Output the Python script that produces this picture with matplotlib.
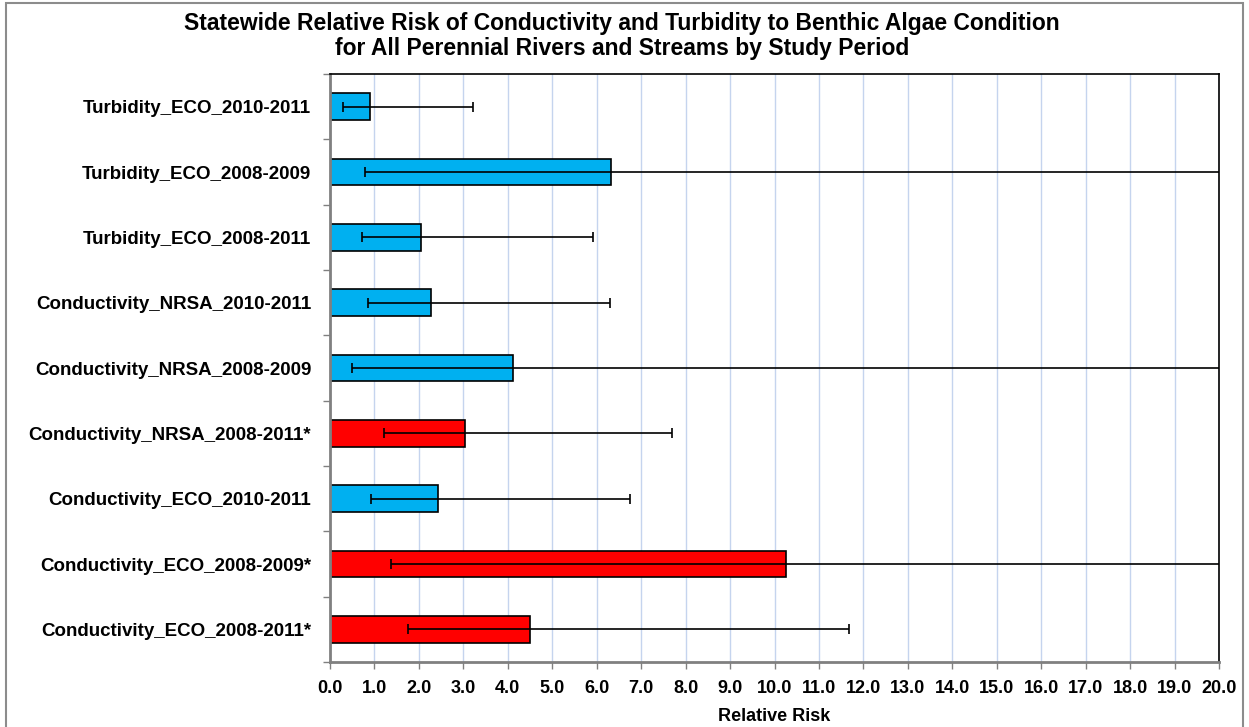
import numpy as np
import matplotlib.pyplot as plt
from matplotlib.patches import Rectangle

plt.rcParams['font.family'] = ['Liberation Sans', 'DejaVu Sans']

# categories listed from top to bottom as in the chart
labels = [
    "Turbidity_ECO_2010-2011",
    "Turbidity_ECO_2008-2009",
    "Turbidity_ECO_2008-2011",
    "Conductivity_NRSA_2010-2011",
    "Conductivity_NRSA_2008-2009",
    "Conductivity_NRSA_2008-2011*",
    "Conductivity_ECO_2010-2011",
    "Conductivity_ECO_2008-2009*",
    "Conductivity_ECO_2008-2011*",
]
risk = [0.91, 6.33, 2.05, 2.27, 4.12, 3.03, 2.44, 10.26, 4.50]
ci_low = [0.30, 0.78, 0.72, 0.85, 0.49, 1.21, 0.92, 1.37, 1.75]
ci_high = [3.22, 25.0, 5.91, 6.30, 25.0, 7.69, 6.75, 25.0, 11.67]
significant = [False, False, False, False, False, True, False, True, True]

risk = np.array(risk)
err = [risk - np.array(ci_low), np.array(ci_high) - risk]
colors = ["#FF0000" if s else "#00B0F0" for s in significant]

fig = plt.figure(figsize=(12.49, 7.27), dpi=100)
ax = fig.add_axes([0.2642, 0.0894, 0.7118, 0.8088])

y = np.arange(len(labels))[::-1]
ax.barh(y, risk, height=0.41, color=colors, edgecolor="black", linewidth=1.2, zorder=2)
ax.errorbar(risk, y, xerr=err, fmt="none", ecolor="black", elinewidth=1.2,
            capsize=3.5, capthick=1.2, zorder=3)

ax.set_xlim(0, 20)
ax.set_ylim(-0.5, len(labels) - 0.5)
ax.set_xticks(np.arange(0, 21, 1))
ax.set_xticklabels([f"{v:.1f}" for v in np.arange(0, 21, 1)], fontsize=13, fontweight="bold")
ax.set_yticks(y)
ax.set_yticklabels(labels, fontsize=13.5, fontweight="bold")
ax.tick_params(axis="y", which="major", length=0, pad=13.5)
ax.set_yticks(np.arange(-0.5, len(labels), 1), minor=True)
ax.tick_params(axis="y", which="minor", length=5, color="#808080", width=1)
ax.tick_params(axis="x", length=5, color="#808080", width=1, pad=8)

ax.grid(axis="x", color="#C5D4EE", linewidth=1, zorder=0)
ax.set_axisbelow(True)

for s in ["left", "bottom"]:
    ax.spines[s].set_color("#808080")
    ax.spines[s].set_linewidth(2)
for s in ["top", "right"]:
    ax.spines[s].set_color("black")
    ax.spines[s].set_linewidth(1.2)

ax.set_xlabel("Relative Risk", fontsize=13, fontweight="bold", labelpad=8)
fig.suptitle("Statewide Relative Risk of Conductivity and Turbidity to Benthic Algae Condition\n"
             "for All Perennial Rivers and Streams by Study Period",
             fontsize=16.5, fontweight="bold", x=0.498, y=0.983, linespacing=1.1)

fig.patches.append(Rectangle((0.005, -0.01), 0.99, 1.006, transform=fig.transFigure,
                             fill=False, edgecolor="#8C8C8C", linewidth=1.5))

fig.savefig("out.png", dpi=100)
